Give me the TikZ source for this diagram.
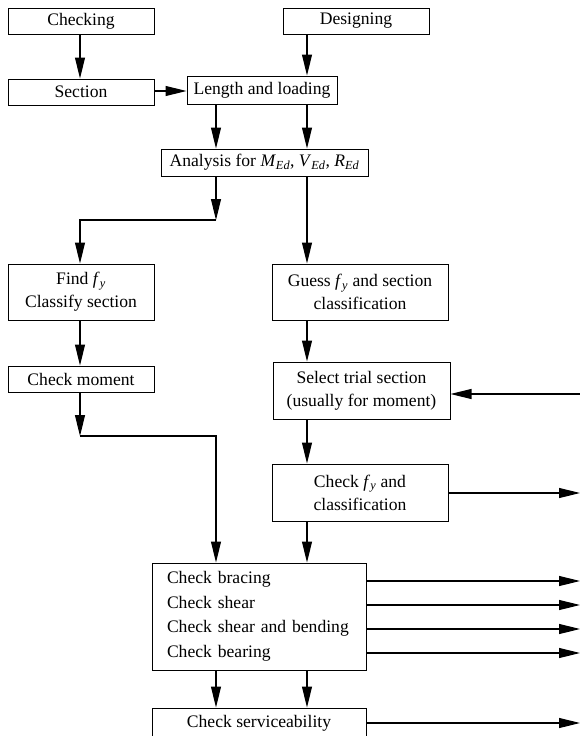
\documentclass[tikz,border=0pt]{standalone}
\usepackage{fontspec}
\setmainfont{Liberation Serif}
\usetikzlibrary{arrows.meta}
\newcommand\symsub[2]{\textit{#1}\textsubscript{\textit{#2}}}
\begin{document}
\begin{tikzpicture}[x=1pt,y=-1pt,
  every node/.style={font=\fontsize{17.6}{23}\selectfont},
  box/.style={draw,line width=1pt,rectangle,inner sep=0pt,align=center},
  conn/.style={line width=1.1pt},
  arr/.style={conn,-{Triangle[length=21pt,width=10pt]}}]
\useasboundingbox (0,0) rectangle (580,736);
\clip (0,0) rectangle (580,736);
% columns
\coordinate (colA) at (216,0);
\coordinate (colB) at (307,0);
\coordinate (colL) at (80,0);
% nodes
\node[box,minimum width=146pt,minimum height=26pt] (check) at (81,21) {Checking};
\node[box,minimum width=146pt,minimum height=26pt] (design) at (356,21) {Designing};
\node[box,minimum width=146pt,minimum height=26pt] (section) at (81,92) {Section};
\node[box,minimum width=150pt,minimum height=28pt] (length) at (262,90) {Length and loading};
\node[box,minimum width=207pt,minimum height=27pt] (analysis) at (264.5,162.5)
  {Analysis for \symsub{M}{Ed}, \symsub{V}{Ed}, \symsub{R}{Ed}};
\node[box,minimum width=146pt,minimum height=56pt] (find) at (81,292)
  {Find \symsub{f}{y}\\Classify section};
\node[box,minimum width=176pt,minimum height=56pt] (guess) at (360,292)
  {Guess \symsub{f}{y} and section\\classification};
\node[box,minimum width=146pt,minimum height=26pt] (moment) at (81,379) {Check moment};
\node[box,minimum width=177pt,minimum height=57pt] (select) at (361.5,390.5)
  {Select trial section\\(usually for moment)};
\node[box,minimum width=176pt,minimum height=57pt] (checkfy) at (360,492.5)
  {Check \symsub{f}{y} and\\classification};
\node[box,align=left,text width=184pt,inner xsep=15pt,minimum height=107pt,
  font=\fontsize{17.6}{24.5}\selectfont] (big) at (259,616.5)
  {Check bracing\\Check shear\\Check shear and bending\\Check bearing};
\node[box,minimum width=214pt,minimum height=30pt] (serv) at (259,723) {Check serviceability};
% free ends
\coordinate (j1) at (216,220);
\coordinate (j2) at (80,436);
\coordinate (rSel) at (580,394);
\coordinate (rFy) at (580,493);
\coordinate (r1) at (580,581);
\coordinate (r2) at (580,605);
\coordinate (r3) at (580,629);
\coordinate (r4) at (580,653);
\coordinate (rServ) at (580,723);
% connectors
\draw[arr] (check.south -| colL) -- (section.north -| colL);
\draw[arr] (design.south -| colB) -- (length.north -| colB);
\draw[arr] (section.east |- 0,91) -- (length.west |- 0,91);
\draw[arr] (length.south -| colA) -- (analysis.north -| colA);
\draw[arr] (length.south -| colB) -- (analysis.north -| colB);
\draw[arr] (analysis.south -| colA) -- (j1);
\draw[arr] (j1) -- (j1 -| colL) -- (find.north -| colL);
\draw[arr] (analysis.south -| colB) -- (guess.north -| colB);
\draw[arr] (find.south -| colL) -- (moment.north -| colL);
\draw[arr] (moment.south -| colL) -- (j2);
\draw[arr] (j2) -- (j2 -| colA) -- (big.north -| colA);
\draw[arr] (guess.south -| colB) -- (select.north -| colB);
\draw[arr] (rSel) -- (select.east |- rSel);
\draw[arr] (select.south -| colB) -- (checkfy.north -| colB);
\draw[arr] (checkfy.east |- rFy) -- (rFy);
\draw[arr] (checkfy.south -| colB) -- (big.north -| colB);
\draw[arr] (big.east |- r1) -- (r1);
\draw[arr] (big.east |- r2) -- (r2);
\draw[arr] (big.east |- r3) -- (r3);
\draw[arr] (big.east |- r4) -- (r4);
\draw[arr] (big.south -| colA) -- (serv.north -| colA);
\draw[arr] (big.south -| colB) -- (serv.north -| colB);
\draw[arr] (serv.east |- rServ) -- (rServ);
\end{tikzpicture}
\end{document}
